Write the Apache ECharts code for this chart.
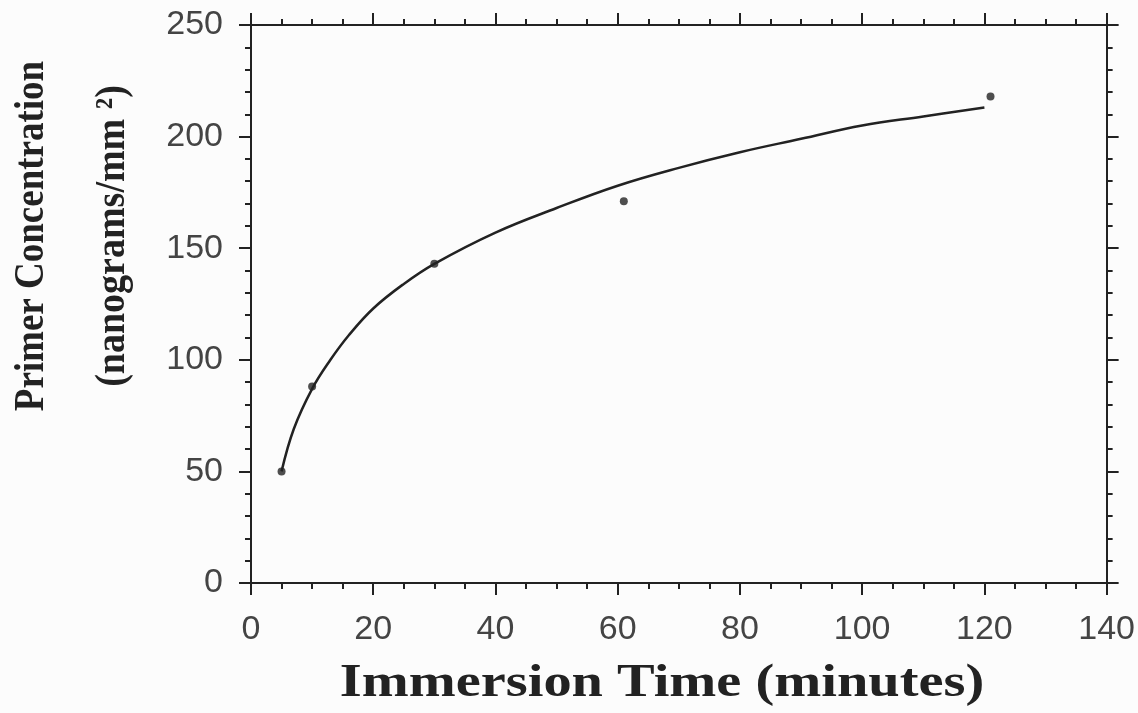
<!DOCTYPE html>
<html><head><meta charset="utf-8">
<script src="https://cdn.jsdelivr.net/npm/echarts@6/dist/echarts.min.js"></script>
<style>html,body{margin:0;padding:0;background:#fcfcfc}#c{width:1138px;height:713px}</style>
</head><body><div id="c"></div>
<script>
const measuredTime = [5, 10, 30, 61, 121];
const measuredConc = [50, 88, 143, 171, 218];
// Fitted curve at several times
const fitTime = [5, 7, 10, 13, 16, 20, 25, 30, 40, 50, 60, 70, 80, 90, 100, 110, 120];
const fitConc = [50, 69, 87, 100, 111, 123, 134, 143, 157, 168, 178, 186, 193, 199, 205, 209, 213];
const xTitle = 'Immersion Time (minutes)';
const yTitle1 = 'Primer Concentration';
const yTitle2 = '(nanograms/mm \u00B2)';

const ink = '#222';
const chart = echarts.init(document.getElementById('c'), null, {renderer: 'canvas'});

function xAx(pos, labels) {
  return {
    type: 'value', min: 0, max: 140, interval: 20, position: pos, gridIndex: 0,
    axisLine: {show: true, onZero: false, lineStyle: {color: ink, width: 2}},
    axisTick: {show: true, inside: false, length: 12, lineStyle: {color: ink, width: 2}},
    minorTick: {show: true, splitNumber: 4, length: 6, lineStyle: {color: ink, width: 2}},
    splitLine: {show: false}, minorSplitLine: {show: false},
    axisLabel: {show: labels, fontSize: 34, color: '#444', margin: 30, fontFamily: 'Liberation Sans', showMinLabel: true, showMaxLabel: true}
  };
}
function yAx(pos, labels) {
  return {
    type: 'value', min: 0, max: 250, interval: 50, position: pos, gridIndex: 0,
    axisLine: {show: true, onZero: false, lineStyle: {color: ink, width: 2}},
    axisTick: {show: true, inside: false, length: 12, lineStyle: {color: ink, width: 2}},
    minorTick: {show: true, splitNumber: 5, length: 6, lineStyle: {color: ink, width: 2}},
    splitLine: {show: false}, minorSplitLine: {show: false},
    axisLabel: {show: labels, fontSize: 34, color: '#444', margin: 28, fontFamily: 'Liberation Sans', showMinLabel: true, showMaxLabel: true}
  };
}

const titleFont = {fontFamily: 'Liberation Serif', fontWeight: 'bold', fill: ink, align: 'center', verticalAlign: 'middle'};

chart.setOption({
  backgroundColor: '#fcfcfc',
  animation: false,
  grid: {left: 251, right: 31, top: 25, bottom: 130, containLabel: false},
  xAxis: [xAx('bottom', true), xAx('top', false)],
  yAxis: [yAx('left', true), yAx('right', false)],
  series: [
    {
      type: 'line', xAxisIndex: 0, yAxisIndex: 0, smooth: 0.4, symbol: 'none',
      lineStyle: {color: ink, width: 2.5},
      data: fitTime.map((t, i) => [t, fitConc[i]])
    },
    {
      type: 'scatter', xAxisIndex: 0, yAxisIndex: 0, symbol: 'circle', symbolSize: 8,
      itemStyle: {color: ink},
      data: measuredTime.map((t, i) => [t, measuredConc[i]])
    }
  ],
  graphic: [
    {type: 'text', x: 662, y: 684, scaleX: 1.2, style: Object.assign({text: xTitle, fontSize: 47}, titleFont)},
    {type: 'text', x: 32, y: 236, rotation: Math.PI / 2, scaleY: 1.15, style: Object.assign({text: yTitle1, fontSize: 37}, titleFont)},
    {type: 'text', x: 113, y: 236, rotation: Math.PI / 2, scaleY: 1.1, style: Object.assign({text: yTitle2, fontSize: 38}, titleFont)}
  ]
});
</script></body></html>
